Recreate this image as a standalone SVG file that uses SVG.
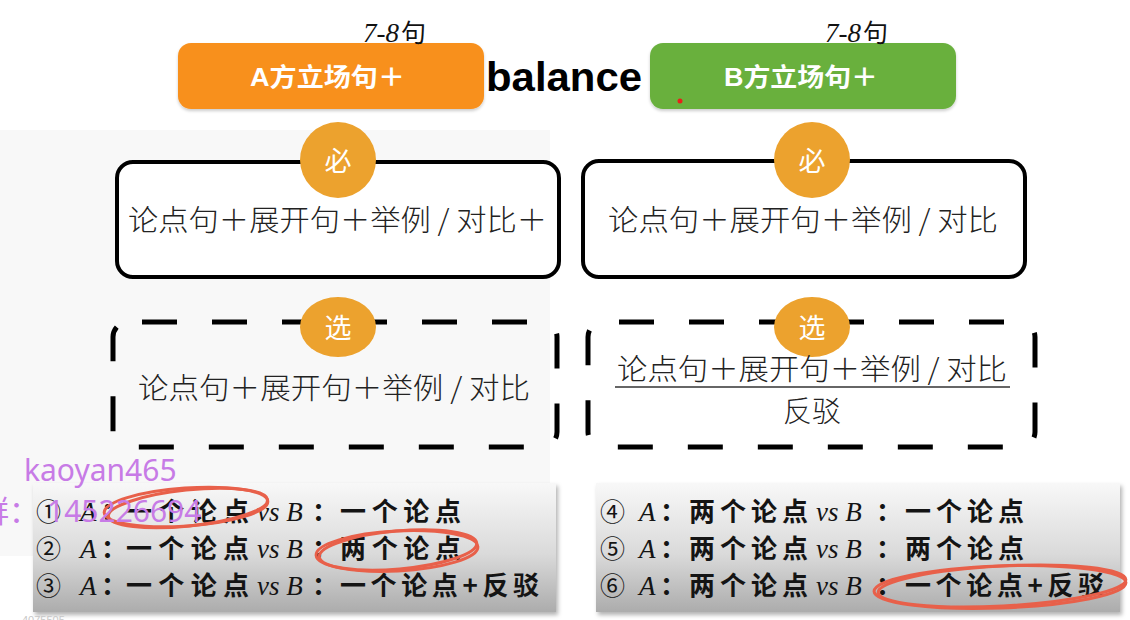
<svg xmlns="http://www.w3.org/2000/svg" width="1130" height="620" viewBox="0 0 1130 620">
  <style>
    .cjk { font-family: "Noto Sans CJK SC", "Noto Sans", sans-serif; }
    .head { font-family: "Liberation Sans", "Noto Sans CJK SC", sans-serif; font-weight: bold; fill: #ffffff; font-size: 25px; }
    .count { font-family: "Liberation Serif", "Noto Sans CJK SC", serif; font-size: 27px; fill: #111; }
    .solid { fill: #ffffff; stroke: #000; stroke-width: 4; }
    .dashed { fill: none; stroke: #000; stroke-width: 5; stroke-dasharray: 35 35; }
    .badge { fill: #eca22e; }
    .badge-t { font-family: "Noto Sans CJK SC", sans-serif; font-size: 27px; fill: #ffffff; text-anchor: middle; }
    .body { font-family: "Noto Sans CJK SC", sans-serif; font-weight: 300; font-size: 29px; fill: #222; }
    .case { font-family: "Noto Sans CJK SC", sans-serif; font-weight: bold; font-size: 26px; fill: #141414; }
    .num { font-family: "Noto Sans CJK SC", sans-serif; font-size: 25px; fill: #141414; }
    .it { font-family: "Liberation Serif", serif; font-style: italic; font-size: 27px; fill: #141414; }
    .circ { fill: none; stroke: #e8604a; stroke-width: 3; }
    .mark { font-family: "Noto Sans", "Noto Sans CJK SC", sans-serif; font-size: 30px; fill: #c77be6; }
  </style>
  <defs>
    <linearGradient id="panelFill" x1="0" y1="0" x2="0" y2="1">
      <stop offset="0" stop-color="#f8f8f8"/>
      <stop offset="0.55" stop-color="#dadada"/>
      <stop offset="1" stop-color="#acacac"/>
    </linearGradient>
    <filter id="shadow" x="-5%" y="-10%" width="110%" height="130%">
      <feDropShadow dx="2" dy="3" stdDeviation="2" flood-color="#000" flood-opacity="0.3"/>
    </filter>
    <filter id="soft" x="-5%" y="-10%" width="110%" height="130%">
      <feDropShadow dx="0" dy="2" stdDeviation="1.5" flood-color="#000" flood-opacity="0.2"/>
    </filter>
  </defs>

  <rect width="1130" height="620" fill="#ffffff"/>
  <!-- light backdrop behind left column -->
  <rect x="0" y="130" width="550" height="426" fill="#f8f8f8"/>

  <!-- header: stance boxes -->
  <g id="stance-a">
    <rect x="178" y="43" width="306" height="66" rx="13" fill="#f8901c" filter="url(#soft)"/>
    <text class="head" x="250" y="86" textLength="155" lengthAdjust="spacingAndGlyphs">A<tspan class="cjk">方立场句＋</tspan></text>
    <text class="count" x="363" y="42"><tspan font-style="italic">7-8</tspan><tspan class="cjk" font-size="25" dx="2">句</tspan></text>
  </g>
  <g id="balance">
    <text x="486" y="91" font-family="Liberation Sans, sans-serif" font-weight="bold" font-size="41" fill="#000" textLength="156" lengthAdjust="spacingAndGlyphs">balance</text>
  </g>
  <g id="stance-b">
    <rect x="650" y="43" width="306" height="66" rx="13" fill="#69b03d" filter="url(#soft)"/>
    <text class="head" x="724" y="86" textLength="154" lengthAdjust="spacingAndGlyphs">B<tspan class="cjk">方立场句＋</tspan></text>
    <text class="count" x="825" y="42"><tspan font-style="italic">7-8</tspan><tspan class="cjk" font-size="25" dx="2">句</tspan></text>
    <circle cx="680" cy="101" r="2.5" fill="#e8201a"/>
  </g>

  <!-- required structure -->
  <g id="required-a">
    <rect class="solid" x="117" y="162" width="442" height="115" rx="16"/>
    <circle class="badge" cx="338" cy="160" r="38"/>
    <text class="badge-t" x="338" y="171">必</text>
    <text class="body" x="128" y="231" textLength="419" lengthAdjust="spacingAndGlyphs">论点句＋展开句＋举例 / 对比＋</text>
  </g>
  <g id="required-b">
    <rect class="solid" x="583" y="161" width="442" height="116" rx="16"/>
    <circle class="badge" cx="812" cy="160" r="38"/>
    <text class="badge-t" x="812" y="171">必</text>
    <text class="body" x="608" y="231" textLength="390" lengthAdjust="spacingAndGlyphs">论点句＋展开句＋举例 / 对比</text>
  </g>

  <!-- optional structure -->
  <g id="optional-a">
    <rect class="dashed" x="113" y="322" width="444" height="125" rx="15" stroke-dashoffset="56"/>
    <ellipse class="badge" cx="338" cy="327" rx="38" ry="30"/>
    <text class="badge-t" x="338" y="338">选</text>
    <text class="body" x="138" y="399" textLength="392" lengthAdjust="spacingAndGlyphs">论点句＋展开句＋举例 / 对比</text>
  </g>
  <g id="optional-b">
    <rect class="dashed" x="588" y="322" width="447" height="125" rx="15" stroke-dashoffset="54"/>
    <ellipse class="badge" cx="812" cy="327" rx="38" ry="30"/>
    <text class="badge-t" x="812" y="338">选</text>
    <text class="body" x="617" y="380" textLength="390" lengthAdjust="spacingAndGlyphs">论点句＋展开句＋举例 / 对比</text>
    <line x1="615" y1="387" x2="1010" y2="387" stroke="#333" stroke-width="1.6"/>
    <text class="body" x="812" y="422" text-anchor="middle">反驳</text>
  </g>

  <!-- case list, A holds one point -->
  <g id="cases-a">
    <rect x="33" y="483" width="523" height="129" fill="url(#panelFill)" filter="url(#shadow)"/>
    <g>
      <text class="num" x="36" y="521">①</text>
      <text class="it" x="80" y="521">A</text>
      <text class="case" x="101" y="521">：</text>
      <text class="case" x="126" y="521" textLength="123" lengthAdjust="spacing">一个论点</text>
      <text class="it" x="257" y="521">vs B</text>
      <text class="case" x="312" y="521">：</text>
      <text class="case" x="340" y="521" textLength="121" lengthAdjust="spacing">一个论点</text>
    </g>
    <g>
      <text class="num" x="36" y="558">②</text>
      <text class="it" x="80" y="558">A</text>
      <text class="case" x="101" y="558">：</text>
      <text class="case" x="126" y="558" textLength="123" lengthAdjust="spacing">一个论点</text>
      <text class="it" x="257" y="558">vs B</text>
      <text class="case" x="312" y="558">：</text>
      <text class="case" x="340" y="558" textLength="121" lengthAdjust="spacing">两个论点</text>
    </g>
    <g>
      <text class="num" x="36" y="595">③</text>
      <text class="it" x="80" y="595">A</text>
      <text class="case" x="101" y="595">：</text>
      <text class="case" x="126" y="595" textLength="123" lengthAdjust="spacing">一个论点</text>
      <text class="it" x="257" y="595">vs B</text>
      <text class="case" x="312" y="595">：</text>
      <text class="case" x="340" y="595" textLength="199" lengthAdjust="spacing">一个论点+反驳</text>
    </g>
  </g>

  <!-- case list, A holds two points -->
  <g id="cases-b">
    <rect x="596" y="483" width="524" height="129" fill="url(#panelFill)" filter="url(#shadow)"/>
    <g>
      <text class="num" x="600" y="521">④</text>
      <text class="it" x="639" y="521">A</text>
      <text class="case" x="660" y="521">：</text>
      <text class="case" x="689" y="521" textLength="119" lengthAdjust="spacing">两个论点</text>
      <text class="it" x="816" y="521">vs B</text>
      <text class="case" x="876" y="521">：</text>
      <text class="case" x="905" y="521" textLength="119" lengthAdjust="spacing">一个论点</text>
    </g>
    <g>
      <text class="num" x="600" y="558">⑤</text>
      <text class="it" x="639" y="558">A</text>
      <text class="case" x="660" y="558">：</text>
      <text class="case" x="689" y="558" textLength="119" lengthAdjust="spacing">两个论点</text>
      <text class="it" x="816" y="558">vs B</text>
      <text class="case" x="876" y="558">：</text>
      <text class="case" x="905" y="558" textLength="119" lengthAdjust="spacing">两个论点</text>
    </g>
    <g>
      <text class="num" x="600" y="595">⑥</text>
      <text class="it" x="639" y="595">A</text>
      <text class="case" x="660" y="595">：</text>
      <text class="case" x="689" y="595" textLength="119" lengthAdjust="spacing">两个论点</text>
      <text class="it" x="816" y="595">vs B</text>
      <text class="case" x="876" y="595">：</text>
      <text class="case" x="905" y="595" textLength="199" lengthAdjust="spacing">一个论点+反驳</text>
    </g>
  </g>

  <!-- hand-drawn highlight rings -->
  <g id="highlights">
    <ellipse class="circ" cx="186" cy="507" rx="82" ry="19" transform="rotate(-4 186 507)"/>
    <ellipse class="circ" cx="188" cy="508" rx="80" ry="18" stroke-width="1.5" transform="rotate(-6 188 508)"/>
    <ellipse class="circ" cx="397" cy="551" rx="81" ry="20" transform="rotate(-3 397 551)"/>
    <ellipse class="circ" cx="398" cy="550" rx="79" ry="19" stroke-width="1.5" transform="rotate(-5 398 550)"/>
    <ellipse class="circ" cx="1000" cy="587" rx="126" ry="21" transform="rotate(-2 1000 587)"/>
    <ellipse class="circ" cx="1002" cy="586" rx="124" ry="20" stroke-width="1.5" transform="rotate(-3 1002 586)"/>
  </g>

  <!-- overlay marks -->
  <g id="watermark">
    <text class="mark" x="24" y="481">kaoyan465</text>
    <text class="mark"><tspan x="-21" y="522">群：</tspan><tspan x="47" y="522">145226694</tspan></text>
    <text x="22" y="624" font-family="Liberation Sans, sans-serif" font-size="11" fill="#c8c8c8">4075505</text>
  </g>
</svg>
